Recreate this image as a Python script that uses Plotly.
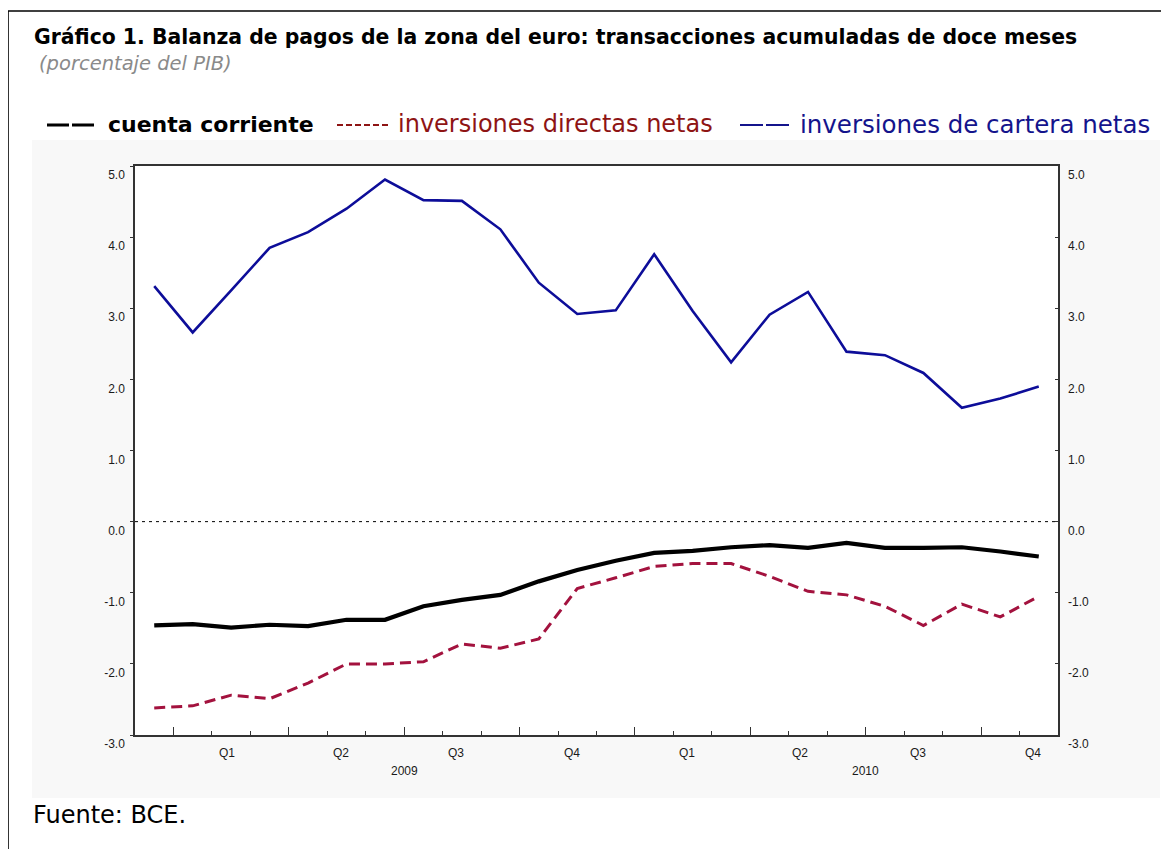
import plotly.graph_objects as go

# ---------------- data (monthly, Dec 2008 - Nov 2010) ----------------
months = list(range(24))
cuenta_corriente = [-1.46, -1.44, -1.49, -1.45, -1.47, -1.38, -1.38, -1.19, -1.10, -1.03, -0.84, -0.68,
                    -0.55, -0.44, -0.41, -0.36, -0.33, -0.37, -0.30, -0.37, -0.37, -0.36, -0.42, -0.49]
inv_directas = [-2.62, -2.59, -2.44, -2.49, -2.27, -2.00, -2.00, -1.97, -1.72, -1.78, -1.65, -0.94,
                -0.79, -0.63, -0.59, -0.59, -0.77, -0.98, -1.03, -1.19, -1.46, -1.16, -1.34, -1.05]
inv_cartera = [3.31, 2.66, 3.25, 3.85, 4.07, 4.40, 4.81, 4.52, 4.51, 4.11, 3.36, 2.92,
               2.97, 3.76, 2.96, 2.24, 2.91, 3.23, 2.39, 2.34, 2.09, 1.60, 1.73, 1.90]

quarter_labels = ["Q1", "Q2", "Q3", "Q4", "Q1", "Q2", "Q3", "Q4"]
quarter_pos = [1.9, 4.85, 7.85, 10.85, 13.85, 16.8, 19.85, 22.85]
year_labels = ["2009", "2010"]
year_pos = [6.5, 18.5]
major_ticks = [0.5, 3.5, 6.5, 9.5, 12.5, 15.5, 18.5, 21.5]
minor_ticks = [1.5, 2.5, 4.5, 5.5, 7.5, 8.5, 10.5, 11.5, 13.5, 14.5, 16.5, 17.5, 19.5, 20.5, 22.5]
y_ticks = [-3, -2, -1, 0, 1, 2, 3, 4, 5]
y_ticktext = ["-3.0", "-2.0", "-1.0", "0.0", "1.0", "2.0", "3.0", "4.0", "5.0"]

title = "Gráfico 1. Balanza de pagos de la zona del euro: transacciones acumuladas de doce meses"
subtitle = "(porcentaje del PIB)"
legend_names = ["cuenta corriente", "inversiones directas netas", "inversiones de cartera netas"]
source = "Fuente: BCE."

BLACK = "#000000"
RED = "#A3123E"
RED_TXT = "#8E1414"
BLUE = "#0D0D99"
BLUE_TXT = "#14148C"

# page coordinates of the reference; the page body has an 8px margin
PAGE_W, PAGE_H, OFF = 1169, 849, 8
W, H = PAGE_W - OFF, PAGE_H - OFF
L, R, T, B = 135, 1058, 166, 735


def px(x):
    return (x - L) / (R - L)


def py(y):
    return (B - y) / (B - T)


fig = go.Figure()
fig.add_trace(go.Scatter(x=months, y=inv_cartera, mode="lines",
                         line=dict(color=BLUE, width=2.6), name=legend_names[2], showlegend=False))
fig.add_trace(go.Scatter(x=months, y=inv_directas, mode="lines",
                         line=dict(color=RED, width=3, dash="11px,6px"), name=legend_names[1], showlegend=False))
fig.add_trace(go.Scatter(x=months, y=cuenta_corriente, mode="lines",
                         line=dict(color=BLACK, width=4.2), name=legend_names[0], showlegend=False))
# right-hand axis copy
fig.add_trace(go.Scatter(x=months, y=cuenta_corriente, mode="lines", yaxis="y2",
                         line=dict(color="rgba(0,0,0,0)", width=0), hoverinfo="skip", showlegend=False))

tickfont = dict(family="Liberation Sans, Arial, sans-serif", size=12, color="#1a1a1a")

fig.update_layout(
    width=W, height=H,
    margin=dict(l=L - OFF, r=PAGE_W - R, t=T - OFF, b=PAGE_H - B),
    paper_bgcolor="white",
    plot_bgcolor="white",
    xaxis=dict(range=[-0.5, 23.5], showgrid=False, zeroline=False,
               showline=True, linecolor="#333333", linewidth=1.5, mirror=True,
               tickvals=major_ticks, ticktext=[""] * len(major_ticks),
               ticks="inside", ticklen=8, tickwidth=1.3, tickcolor="#333333",
               minor=dict(tickvals=minor_ticks, ticks="inside", ticklen=4, tickwidth=1.3, tickcolor="#333333")),
    yaxis=dict(range=[-3, 5], showgrid=False, zeroline=False,
               showline=True, linecolor="#333333", linewidth=1.5, mirror=True,
               tickvals=y_ticks, ticktext=y_ticktext, ticks="outside", ticklen=3,
               tickcolor="#333333", tickfont=tickfont, ticklabelshift=9, ticklabelstandoff=3),
    yaxis2=dict(range=[-3, 5], overlaying="y", side="right", showgrid=False, zeroline=False,
                showline=False, tickvals=y_ticks, ticktext=y_ticktext, ticks="inside", ticklen=3,
                tickcolor="#333333", tickfont=tickfont, ticklabelshift=9, ticklabelstandoff=9),
    showlegend=False,
)

shapes = []
# light grey chart-image background
shapes.append(dict(type="rect", xref="paper", yref="paper", layer="below",
                   x0=px(32), x1=px(1160), y0=py(798), y1=py(140),
                   fillcolor="#f8f8f8", line=dict(width=0)))
shapes.append(dict(type="rect", xref="paper", yref="paper", layer="below",
                   x0=0, x1=1, y0=0, y1=1, fillcolor="white", line=dict(width=0)))
# outer frame
shapes.append(dict(type="line", xref="paper", yref="paper", x0=px(8), x1=px(1175), y0=py(11), y1=py(11),
                   line=dict(color="black", width=1.6)))
shapes.append(dict(type="line", xref="paper", yref="paper", x0=px(8), x1=px(8), y0=py(11), y1=py(855),
                   line=dict(color="black", width=1.6)))
# zero dotted line
shapes.append(dict(type="line", xref="x", yref="y", x0=-0.5, x1=23.5, y0=0, y1=0,
                   line=dict(color="black", width=1, dash="3px,4px")))
# legend samples
shapes.append(dict(type="line", xref="paper", yref="paper", x0=px(47), x1=px(95), y0=py(125), y1=py(125),
                   line=dict(color=BLACK, width=3, dash="22px,3px")))
shapes.append(dict(type="line", xref="paper", yref="paper", x0=px(337), x1=px(391), y0=py(125), y1=py(125),
                   line=dict(color=RED_TXT, width=1.8, dash="6px,3px")))
shapes.append(dict(type="line", xref="paper", yref="paper", x0=px(740), x1=px(790), y0=py(125), y1=py(125),
                   line=dict(color=BLUE_TXT, width=2, dash="23px,3px")))
fig.update_layout(shapes=shapes)

ann = []
ann.append(dict(text="<b>" + title + "</b>", x=px(32), y=py(37), xref="paper", yref="paper",
                xanchor="left", yanchor="middle", showarrow=False,
                font=dict(family="DejaVu Sans", size=20.4, color="black")))
ann.append(dict(text="<i>" + subtitle + "</i>", x=px(37), y=py(63), xref="paper", yref="paper",
                xanchor="left", yanchor="middle", showarrow=False,
                font=dict(family="DejaVu Sans", size=19.5, color="#8a8a8a")))
ann.append(dict(text="<b>" + legend_names[0] + "</b>", x=px(106), y=py(124), xref="paper", yref="paper",
                xanchor="left", yanchor="middle", showarrow=False,
                font=dict(family="DejaVu Sans", size=22, color="black")))
ann.append(dict(text=legend_names[1], x=px(396), y=py(124), xref="paper", yref="paper",
                xanchor="left", yanchor="middle", showarrow=False,
                font=dict(family="DejaVu Sans", size=24, color=RED_TXT)))
ann.append(dict(text=legend_names[2], x=px(798), y=py(124), xref="paper", yref="paper",
                xanchor="left", yanchor="middle", showarrow=False,
                font=dict(family="DejaVu Sans", size=24.5, color=BLUE_TXT)))
ann.append(dict(text=source, x=px(31), y=py(815), xref="paper", yref="paper",
                xanchor="left", yanchor="middle", showarrow=False,
                font=dict(family="DejaVu Sans", size=24, color="black")))
for q, p in zip(quarter_labels, quarter_pos):
    ann.append(dict(text=q, x=p, y=py(753), xref="x", yref="paper", xanchor="center", yanchor="middle",
                    showarrow=False, font=tickfont))
for yl, p in zip(year_labels, year_pos):
    ann.append(dict(text=yl, x=p, y=py(771), xref="x", yref="paper", xanchor="center", yanchor="middle",
                    showarrow=False, font=tickfont))
fig.update_layout(annotations=ann)

fig.write_html("out.html")
